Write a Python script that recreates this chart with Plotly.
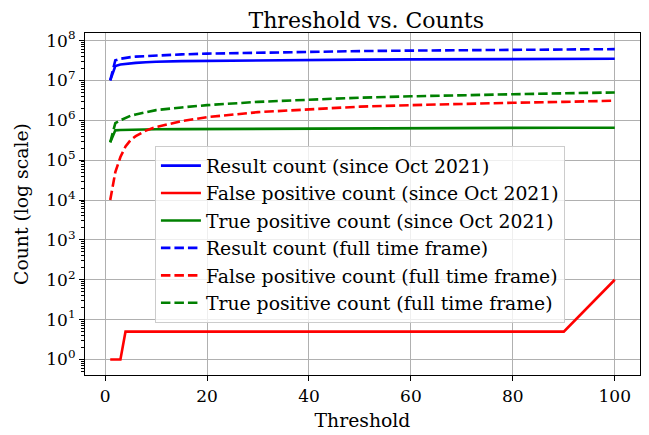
import plotly.graph_objects as go

thresholds = [1, 2, 3, 4, 5, 6, 8, 10, 15, 20, 30, 40, 50, 60, 70, 80, 90, 100]

result_since = [1.0e7, 2.3e7, 2.5e7, 2.6e7, 2.7e7, 2.75e7, 2.85e7, 2.95e7, 3.05e7, 3.1e7,
                3.2e7, 3.27e7, 3.32e7, 3.37e7, 3.41e7, 3.45e7, 3.48e7, 3.5e7]
fp_since = [1, 1, 1, 5, 5, 5, 5, 5, 5, 5, 5, 5, 5, 5, 5, 5, 5, 100]
tp_since = [2.8e5, 5.6e5, 5.7e5, 5.75e5, 5.8e5, 5.85e5, 5.9e5, 5.95e5, 6.0e5, 6.05e5,
            6.15e5, 6.2e5, 6.3e5, 6.35e5, 6.4e5, 6.45e5, 6.5e5, 6.5e5]
result_full = [1.0e7, 3.2e7, 3.5e7, 3.7e7, 3.85e7, 3.95e7, 4.1e7, 4.25e7, 4.5e7, 4.7e7,
               5.0e7, 5.25e7, 5.45e7, 5.6e7, 5.75e7, 5.9e7, 6.0e7, 6.1e7]
fp_full = [1.0e4, 5.0e4, 1.2e5, 2.2e5, 3.2e5, 4.0e5, 5.5e5, 6.8e5, 9.5e5, 1.2e6,
           1.6e6, 1.9e6, 2.2e6, 2.4e6, 2.6e6, 2.75e6, 2.9e6, 3.1e6]
tp_full = [2.8e5, 8.5e5, 1.0e6, 1.15e6, 1.3e6, 1.4e6, 1.6e6, 1.8e6, 2.1e6, 2.4e6,
           2.9e6, 3.3e6, 3.7e6, 4.0e6, 4.3e6, 4.5e6, 4.75e6, 5.0e6]

x_ticks = [0, 20, 40, 60, 80, 100]
y_tick_vals = [1, 10, 100, 1e3, 1e4, 1e5, 1e6, 1e7, 1e8]
y_tick_text = ["10<sup>%d</sup>" % i for i in range(9)]

series = [
    ("Result count (since Oct 2021)", result_since, "blue", "solid"),
    ("False positive count (since Oct 2021)", fp_since, "red", "solid"),
    ("True positive count (since Oct 2021)", tp_since, "green", "solid"),
    ("Result count (full time frame)", result_full, "blue", "dash"),
    ("False positive count (full time frame)", fp_full, "red", "dash"),
    ("True positive count (full time frame)", tp_full, "green", "dash"),
]

FONT = "DejaVu Serif"
fig = go.Figure()
for name, vals, color, dash in series:
    fig.add_trace(go.Scatter(
        x=thresholds, y=vals, mode="lines", name=name,
        line=dict(color=color, width=2.6, dash="solid" if dash == "solid" else "9.5px,4px"),
    ))

axis_common = dict(
    showline=True, linecolor="black", linewidth=1.2, mirror=True,
    ticks="outside", ticklen=5, tickwidth=1.1, tickcolor="black",
    showgrid=True, gridcolor="#b0b0b0", gridwidth=1,
    zeroline=False, automargin=False,
    tickfont=dict(family=FONT, size=17, color="black"),
)

# page body has an 8px default margin, so the figure is drawn 8px right/down
fig.update_layout(
    width=641, height=427,
    paper_bgcolor="white", plot_bgcolor="white",
    margin=dict(l=77, r=9, t=25, b=60),
    title=dict(text="Threshold vs. Counts", x=0.5589, xanchor="center", y=0.972, yanchor="middle",
               font=dict(family=FONT, size=22, color="black")),
    showlegend=True,
    legend=dict(
        x=0.126, y=0.67, xanchor="left", yanchor="top",
        bgcolor="rgba(255,255,255,0.8)", bordercolor="#cccccc", borderwidth=1,
        font=dict(family=FONT, size=18.8, color="black"),
        tracegroupgap=0, itemwidth=40,
    ),
    font=dict(family=FONT, color="black"),
)

fig.update_xaxes(
    range=[-3.95, 104.95], tickmode="array", tickvals=x_ticks,
    title=dict(text="Threshold", font=dict(family=FONT, size=18.8, color="black"), standoff=9),
    **axis_common,
)
fig.update_yaxes(
    type="log", range=[-0.39, 8.19], tickmode="array",
    tickvals=y_tick_vals, ticktext=y_tick_text,
    title=dict(text="Count (log scale)", font=dict(family=FONT, size=18.8, color="black"), standoff=12),
    minor=dict(ticks="outside", ticklen=3, tickwidth=0.8, tickcolor="black", showgrid=False, dtick="D1"),
    **axis_common,
)

fig.write_html("out.html")
